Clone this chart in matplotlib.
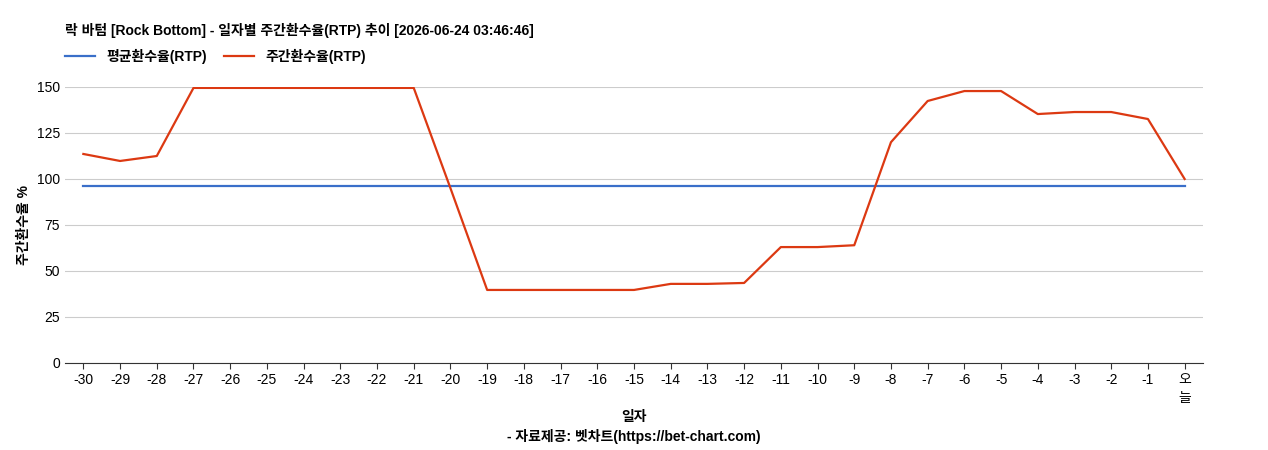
import matplotlib
matplotlib.use("Agg")
import matplotlib.pyplot as plt

plt.rcParams['font.family'] = ['Liberation Sans', 'Noto Sans CJK KR', 'DejaVu Sans']

labels = [str(i) for i in range(-30, 0)] + ['오\n늘']
weekly = [113.6, 109.8, 112.5, 149.5, 149.5, 149.5, 149.5, 149.5, 149.5, 149.5,
          95.0, 39.7, 39.7, 39.7, 39.7, 39.7, 43.0, 43.0, 43.5, 63.0,
          63.0, 64.0, 120.0, 142.4, 147.8, 147.8, 135.3, 136.4, 136.4, 132.6, 100.0]
avg = [96.2] * len(labels)

fig = plt.figure(figsize=(12.68, 4.5), dpi=100)
ax = fig.add_axes([65/1268, 1-363/450, (1203-65)/1268, (363-87)/450])
x = list(range(len(labels)))
ax.plot(x, avg, color='#3a6fc9', lw=1.6, label='평균환수율(RTP)')
ax.plot(x, weekly, color='#dc3912', lw=1.6, label='주간환수율(RTP)')
ax.set_xlim(-0.5, len(labels) - 0.5)
ax.set_ylim(0, 150)
ax.set_yticks([0, 25, 50, 75, 100, 125, 150])
ax.set_xticks(x)
ax.set_xticklabels(labels, fontsize=10, linespacing=1.3)
ax.tick_params(axis='y', labelsize=10, length=0)
ax.tick_params(axis='x', length=4, color='#333333')
ax.grid(axis='y', color='#cccccc', lw=0.8)
ax.set_axisbelow(True)
for s in ['top', 'right', 'left']:
    ax.spines[s].set_visible(False)
ax.spines['bottom'].set_color('#333333')
ax.set_ylabel('주간환수율 %', fontsize=10, fontweight='bold')
ax.set_xlabel('일자', fontsize=10, fontweight='bold', labelpad=4)
fig.text(65/1268, 1-30/450, '락 바텀 [Rock Bottom] - 일자별 주간환수율(RTP) 추이 [2026-06-24 03:46:46]',
         fontsize=10, fontweight='bold', va='center')
fig.text(0.5, 1-437/450, '- 자료제공: 벳차트(https://bet-chart.com)', fontsize=10,
         fontweight='bold', ha='center', va='center')
ax.legend(loc='lower left', bbox_to_anchor=(-0.005, 1.065), ncol=2, frameon=False,
          handlelength=2.2, columnspacing=1.2, borderaxespad=0,
          prop={'weight': 'bold', 'size': 10})
fig.savefig('out.png', dpi=100)
